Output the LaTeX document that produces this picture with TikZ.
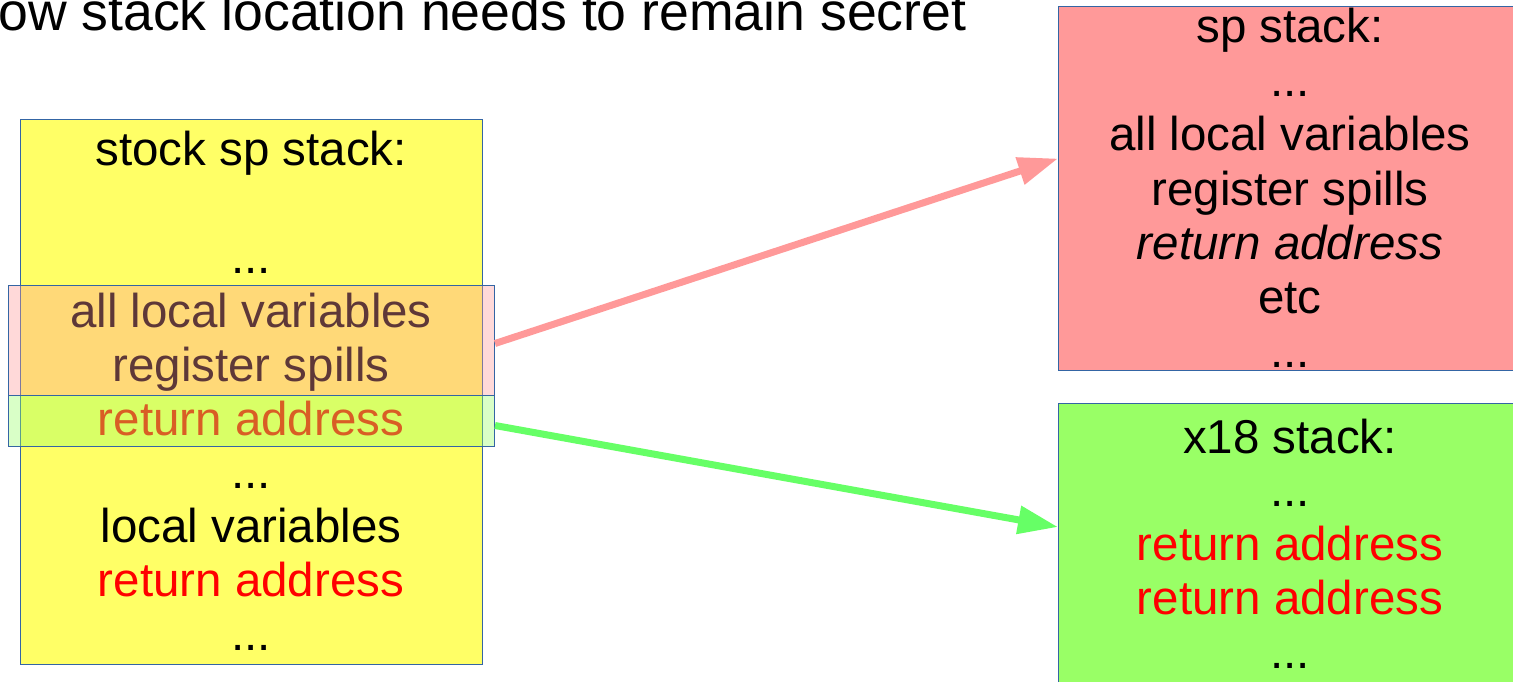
\documentclass[tikz,border=0pt]{standalone}
\usepackage{fontspec}
\setmainfont{Liberation Sans}
\usetikzlibrary{arrows.meta}

\definecolor{stockfill}{HTML}{FFFF66}
\definecolor{spfill}{HTML}{FF9999}
\definecolor{xfill}{HTML}{99FF66}
\definecolor{edge}{HTML}{3465A4}
\definecolor{retred}{HTML}{FF0000}
\definecolor{sparrow}{HTML}{FF9999}
\definecolor{xarrow}{HTML}{66FF66}

\newcommand{\moredots}{...}
\newcommand{\retaddr}{\textcolor{retred}{return address}}

\tikzset{
  stackbox/.style={draw=edge, line width=1.1pt, anchor=north west, inner sep=0pt},
  overlaybox/.style={draw=edge, line width=1pt, fill opacity=0.37, anchor=north west, inner sep=0pt},
  rowtext/.style={anchor=base, inner sep=0pt, font=\fontsize{47.5}{54}\selectfont},
  headline/.style={anchor=base west, inner sep=0pt, font=\fontsize{53.6}{60}\selectfont},
  flow/.style={line width=7pt, -{Triangle[length=40pt,width=27pt]}},
}

\begin{document}
\begin{tikzpicture}[x=1pt,y=-1pt]
\useasboundingbox (0,0) rectangle (1513,682);
\clip (0,0) rectangle (1513,682);

% heading, partly cut by the top edge
\node[headline] (title) at (-2,30.7) {ow stack location needs to remain secret};

% ordinary stack
\node[stackbox, fill=stockfill, minimum width=462pt, minimum height=545pt] (stock) at (20,119) {};
\foreach \i/\t in {0/stock sp stack:, 2/\moredots, 3/all local variables, 4/register spills,
                   5/\retaddr, 6/\moredots, 7/local variables, 8/\retaddr, 9/\moredots}
  \node[rowtext] (stock\i) at (251,165.8+53.86*\i) {\t};

% frame parts that are moved elsewhere
\node[overlaybox, fill=spfill, minimum width=486pt, minimum height=110pt] (spov) at (8,285) {};
\node[overlaybox, fill=xfill, minimum width=486pt, minimum height=51pt] (xov) at (8,395) {};

% regular stack
\node[stackbox, fill=spfill, minimum width=464pt, minimum height=364pt] (spbox) at (1058,6) {};
\foreach \i/\t in {0/sp stack:, 1/\moredots, 2/all local variables, 3/register spills,
                   4/{\itshape return address}, 5/etc, 6/\moredots}
  \node[rowtext] (sp\i) at (1290,43+54*\i) {\t};

% x18 shadow stack
\node[stackbox, fill=xfill, minimum width=464pt, minimum height=300pt] (xbox) at (1058,403) {};
\foreach \i/\t in {0/x18 stack:, 1/\moredots, 2/\retaddr, 3/\retaddr, 4/\moredots}
  \node[rowtext] (x\i) at (1290,453+53.8*\i) {\t};

% where each part goes
\draw[flow, sparrow] ([yshift=-3pt]spov.east) -- ([yshift=30pt]spbox.west);
\draw[flow, xarrow] ([yshift=-4.5pt]xov.east) -- ([yshift=-124pt]xbox.north west);
\end{tikzpicture}
\end{document}
